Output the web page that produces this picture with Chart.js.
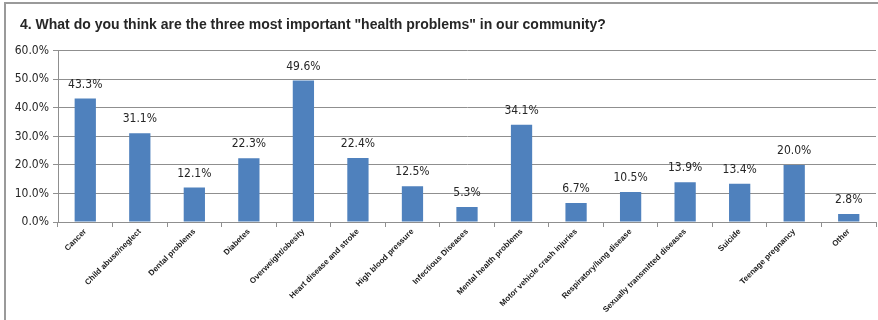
<!DOCTYPE html>
<html>
<head>
<meta charset="utf-8">
<script src="https://cdn.jsdelivr.net/npm/chart.js@4.4.1/dist/chart.umd.min.js"></script>
<style>
  html, body { margin: 0; padding: 0; background: #fff; }
  #wrap { position: relative; width: 878px; height: 320px; overflow: hidden; }
  #frame { position: absolute; left: 4px; top: 2px; width: 900px; height: 400px;
           border-left: 2px solid #9a9a9a; border-top: 2px solid #9a9a9a; }
  canvas { position: absolute; left: 0; top: 0; }
</style>
</head>
<body>
<div id="wrap">
  <div id="frame"></div>
  <canvas id="chart" width="878" height="320"></canvas>
</div>
<script>
const categories = [
  'Cancer', 'Child abuse/neglect', 'Dental problems', 'Diabetes', 'Overweight/obesity',
  'Heart disease and stroke', 'High blood pressure', 'Infectious Diseases',
  'Mental health problems', 'Motor vehicle crash injuries', 'Respiratory/lung disease',
  'Sexually transmitted diseases', 'Suicide', 'Teenage pregnancy', 'Other'
];
const percents = [43.3, 31.1, 12.1, 22.3, 49.6, 22.4, 12.5, 5.3, 34.1, 6.7, 10.5, 13.9, 13.4, 20.0, 2.8];
const yTicks = [0, 10, 20, 30, 40, 50, 60];

const textColor = '#262626';
const gridColor = '#8f8f8f';

// value labels above each bar
const barLabels = {
  id: 'barLabels',
  afterDatasetsDraw(chart) {
    const ctx = chart.ctx;
    const meta = chart.getDatasetMeta(0);
    ctx.save();
    ctx.font = '12px "DejaVu Sans Condensed", "Liberation Sans", sans-serif';
    ctx.fillStyle = textColor;
    ctx.textAlign = 'center';
    ctx.textBaseline = 'bottom';
    meta.data.forEach((bar, i) => {
      ctx.fillText(percents[i].toFixed(1) + '%', bar.x, bar.y - 8);
    });
    ctx.restore();
  }
};

// push the title in from the left edge without moving the y axis
const titleIndent = {
  id: 'titleIndent',
  afterLayout(chart) {
    if (chart.titleBlock) chart.titleBlock.left = 20;
  }
};

new Chart(document.getElementById('chart'), {
  type: 'bar',
  data: {
    labels: categories,
    datasets: [{
      data: percents,
      backgroundColor: '#4f81bd',
      barPercentage: 0.39,
      categoryPercentage: 1.0,
    }],
  },
  options: {
    responsive: false,
    animation: false,
    layout: { padding: { top: 0, right: 2, left: 0, bottom: 0 } },
    plugins: {
      legend: { display: false },
      tooltip: { enabled: false },
      title: {
        display: true,
        text: '4. What do you think are the three most important "health problems" in our community?',
        align: 'start',
        color: textColor,
        font: { family: '"Liberation Sans", Arial, sans-serif', size: 14, weight: 'bold' },
        padding: { top: 17, bottom: 17 },
      },
    },
    scales: {
      x: {
        grid: { display: true, offset: true, drawOnChartArea: false, drawTicks: true, tickLength: 5, color: gridColor },
        border: { color: gridColor },
        ticks: {
          color: '#1a1a1a',
          minRotation: 45,
          maxRotation: 45,
          autoSkip: false,
          padding: 0,
          font: { family: '"Liberation Sans", Arial, sans-serif', size: 8, weight: 'bold' },
        },
        afterFit(scale) { scale.height = 98; },
      },
      y: {
        min: 0,
        max: 60,
        afterBuildTicks(scale) { scale.ticks = yTicks.map(v => ({ value: v })); },
        grid: { color: gridColor, tickLength: 5 },
        border: { color: gridColor },
        ticks: {
          color: textColor,
          padding: 4,
          font: { family: '"DejaVu Sans Condensed", "Liberation Sans", sans-serif', size: 12 },
          callback: v => v.toFixed(1) + '%',
        },
        afterFit(scale) { scale.width = 58; },
      },
    },
  },
  plugins: [barLabels, titleIndent],
});
</script>
</body>
</html>
